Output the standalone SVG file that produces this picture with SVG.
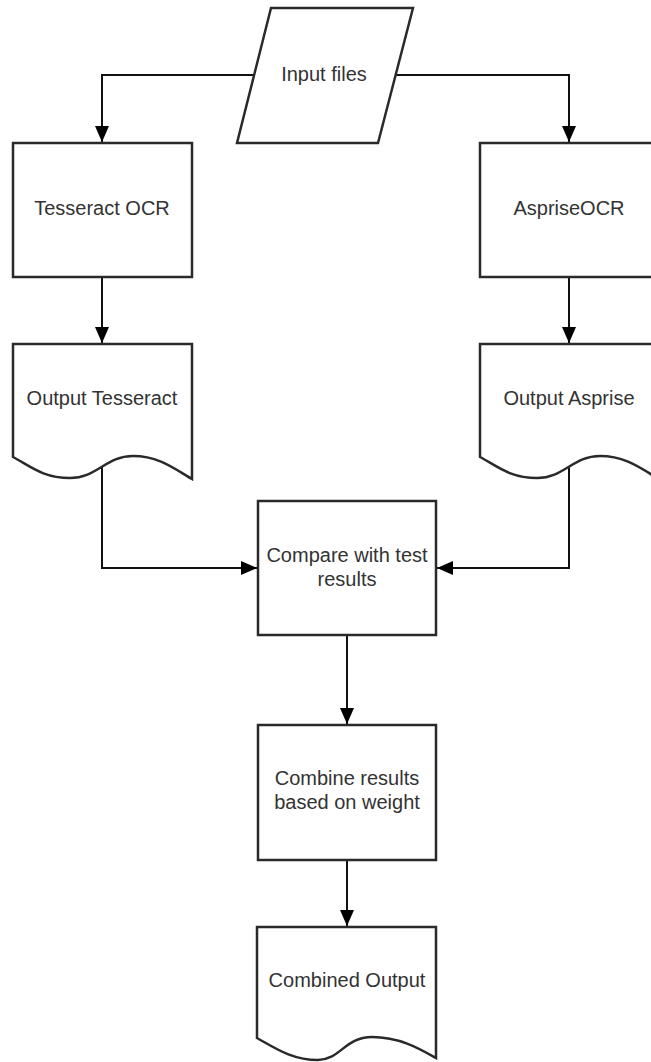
<svg xmlns="http://www.w3.org/2000/svg" width="651" height="1062" viewBox="0 0 651 1062">
<style>
.shape{fill:#fff;stroke:#2a2a2a;stroke-width:2.5}
.conn{fill:none;stroke:#111;stroke-width:2}
.t{font-family:"Liberation Sans",Arial,sans-serif;font-size:20px;fill:#333;text-anchor:middle}
</style>
<defs>
<marker id="arr" viewBox="0 0 16 14" refX="16" refY="7" markerWidth="16" markerHeight="14" markerUnits="userSpaceOnUse" orient="auto">
<path d="M0,0 L16,7 L0,14 Z" fill="#000"/>
</marker>
</defs>
<rect width="651" height="1062" fill="#fff"/>
<g id="connectors">
<path class="conn" d="M254,75 H102 V142" marker-end="url(#arr)"/>
<path class="conn" d="M395,75 H569 V142" marker-end="url(#arr)"/>
<path class="conn" d="M102,277 V343" marker-end="url(#arr)"/>
<path class="conn" d="M569,277 V343" marker-end="url(#arr)"/>
<path class="conn" d="M102,467 V568 H257" marker-end="url(#arr)"/>
<path class="conn" d="M569,467 V568 H437" marker-end="url(#arr)"/>
<path class="conn" d="M347,635 V724" marker-end="url(#arr)"/>
<path class="conn" d="M347,860 V926" marker-end="url(#arr)"/>
</g>
<g id="input">
<path class="shape" d="M271,8 H413 L378,143 H237 Z"/>
<text class="t" x="324" y="81">Input files</text>
</g>
<g id="tesseract">
<rect class="shape" x="13" y="143" width="179" height="134"/>
<text class="t" x="102" y="215">Tesseract OCR</text>
</g>
<g id="asprise">
<rect class="shape" x="480" y="143" width="179" height="134"/>
<text class="t" x="569" y="215">AspriseOCR</text>
</g>
<g id="out-tesseract">
<path class="shape" d="M13,344 H192 V479 C176,470 160,456 133,456 C106,456 97,478 70,478 C43,478 30,466 13,457 Z"/>
<text class="t" x="102" y="405">Output Tesseract</text>
</g>
<g id="out-asprise">
<path class="shape" d="M480,344 H659 V479 C643,470 627,456 600,456 C573,456 564,478 537,478 C510,478 497,466 480,457 Z"/>
<text class="t" x="569" y="405">Output Asprise</text>
</g>
<g id="compare">
<rect class="shape" x="258" y="501" width="178" height="134"/>
<text class="t" x="347" y="562">Compare with test</text>
<text class="t" x="347" y="586">results</text>
</g>
<g id="combine">
<rect class="shape" x="258" y="725" width="178" height="135"/>
<text class="t" x="347" y="785">Combine results</text>
<text class="t" x="347" y="809">based on weight</text>
</g>
<g id="combined-output">
<path class="shape" d="M257,927 H436 V1058 C420,1049 400,1037 372,1037 C345,1037 340,1060 318,1060 C292,1060 275,1048 257,1038 Z"/>
<text class="t" x="347" y="987">Combined Output</text>
</g>
</svg>
